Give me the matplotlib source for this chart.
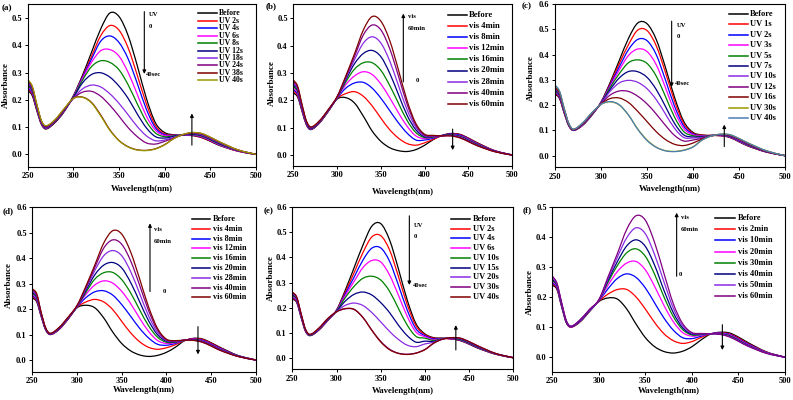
"""
UV-vis switching spectra, six panels (a)-(f).
"""
import matplotlib
matplotlib.use("Agg")
import matplotlib.pyplot as plt
from matplotlib.lines import Line2D
from matplotlib.path import Path
from matplotlib.patches import PathPatch

plt.rcParams['font.family'] = ['Liberation Serif', 'DejaVu Serif']
plt.rcParams['font.weight'] = 'bold'

W, H = 793, 400

# --- Data (absorbance) ---
WL = [250, 255, 260, 265, 270, 280, 290, 300, 310, 320, 330, 340, 350, 360, 370,
      380, 390, 400, 410, 420, 430, 440, 450, 460, 480, 500]

A_LABELS = ['Before', 'UV 2s', 'UV 4s', 'UV 6s', 'UV 8s', 'UV 12s', 'UV 18s',
            'UV 24s', 'UV 38s', 'UV 40s']
A_ROWS = [
    [.235, .215, .160, .110, .093, .117, .157, .215, .290, .375, .460, .518, .505, .435, .325, .205, .115, .080, .072, .070, .069, .062, .048, .033, .012, 0],
    [.240, .220, .163, .112, .095, .119, .159, .213, .285, .360, .435, .472, .455, .390, .290, .185, .105, .075, .071, .070, .070, .063, .049, .034, .012, 0],
    [.245, .224, .166, .114, .096, .120, .160, .212, .282, .350, .415, .434, .410, .350, .260, .165, .097, .072, .070, .070, .071, .065, .051, .035, .013, 0],
    [.250, .228, .169, .116, .097, .121, .161, .211, .278, .338, .380, .384, .360, .300, .220, .140, .088, .069, .069, .070, .072, .066, .052, .036, .013, 0],
    [.254, .232, .172, .118, .098, .122, .162, .210, .272, .322, .343, .337, .310, .255, .185, .120, .078, .065, .068, .071, .073, .068, .054, .038, .014, 0],
    [.258, .236, .175, .119, .099, .123, .163, .208, .262, .293, .299, .283, .250, .205, .148, .097, .065, .060, .066, .071, .075, .070, .056, .040, .015, 0],
    [.262, .240, .177, .120, .100, .124, .164, .206, .240, .254, .247, .222, .187, .145, .102, .068, .050, .053, .063, .072, .077, .072, .058, .042, .015, 0],
    [.266, .243, .179, .121, .101, .125, .165, .205, .228, .231, .213, .180, .140, .098, .065, .042, .038, .048, .060, .072, .078, .074, .060, .044, .016, 0],
    [.272, .248, .182, .123, .104, .127, .167, .205, .210, .190, .144, .090, .051, .028, .017, .015, .021, .036, .058, .073, .080, .077, .063, .046, .017, 0],
    [.275, .250, .184, .124, .105, .128, .168, .205, .209, .188, .141, .088, .050, .027, .016, .014, .020, .035, .058, .073, .080, .077, .063, .046, .017, 0],
]

B_LABELS = ['Before', 'vis 4min', 'vis 8min', 'vis 12min', 'vis 16min', 'vis 20min',
            'vis 28min', 'vis 40min', 'vis 60min']
B_ROWS = [
    [.228, .212, .160, .110, .093, .118, .160, .205, .210, .190, .142, .088, .050, .027, .016, .013, .020, .036, .057, .072, .079, .076, .062, .045, .016, 0],
    [.234, .217, .163, .112, .094, .119, .161, .207, .225, .232, .215, .180, .135, .093, .062, .042, .036, .045, .058, .072, .078, .075, .061, .044, .016, 0],
    [.240, .222, .166, .114, .095, .120, .162, .208, .245, .264, .266, .245, .208, .163, .118, .080, .055, .055, .062, .072, .077, .073, .059, .042, .015, 0],
    [.246, .227, .169, .116, .096, .121, .162, .209, .258, .290, .305, .295, .260, .210, .155, .105, .070, .060, .065, .071, .075, .070, .057, .040, .015, 0],
    [.252, .232, .172, .118, .097, .122, .163, .210, .268, .315, .338, .338, .310, .255, .190, .126, .082, .064, .066, .071, .074, .069, .055, .039, .014, 0],
    [.258, .237, .175, .119, .098, .123, .164, .211, .276, .335, .372, .383, .360, .300, .222, .145, .092, .067, .068, .071, .073, .067, .053, .037, .014, 0],
    [.264, .242, .178, .121, .100, .124, .165, .212, .282, .350, .410, .433, .410, .345, .255, .165, .101, .070, .069, .070, .072, .066, .052, .036, .013, 0],
    [.269, .247, .181, .123, .101, .125, .166, .213, .286, .362, .440, .476, .458, .390, .290, .185, .109, .073, .070, .070, .071, .064, .050, .035, .013, 0],
    [.275, .252, .185, .125, .103, .126, .167, .214, .290, .372, .458, .507, .490, .420, .312, .198, .115, .076, .072, .070, .070, .063, .049, .034, .012, 0],
]

C_LABELS = ['Before', 'UV 1s', 'UV 2s', 'UV 3s', 'UV 5s', 'UV 7s', 'UV 10s',
            'UV 12s', 'UV 16s', 'UV 30s', 'UV 40s']
C_ROWS = [
    [.245, .225, .168, .118, .100, .120, .160, .212, .290, .378, .465, .525, .522, .460, .350, .230, .135, .092, .082, .080, .079, .072, .055, .038, .014, 0],
    [.248, .228, .170, .119, .100, .121, .161, .211, .285, .365, .440, .497, .495, .435, .330, .215, .127, .089, .081, .080, .079, .073, .056, .039, .014, 0],
    [.252, .231, .172, .120, .101, .122, .162, .210, .280, .352, .420, .460, .455, .400, .300, .195, .117, .086, .079, .080, .080, .074, .057, .040, .015, 0],
    [.255, .234, .174, .121, .101, .123, .163, .209, .275, .340, .397, .422, .412, .360, .270, .175, .107, .083, .078, .080, .080, .075, .058, .041, .015, 0],
    [.258, .237, .176, .122, .102, .124, .164, .208, .270, .325, .368, .379, .365, .315, .235, .152, .095, .079, .076, .080, .081, .076, .060, .042, .016, 0],
    [.262, .240, .178, .123, .102, .125, .165, .207, .262, .308, .333, .332, .310, .262, .195, .127, .082, .074, .074, .079, .082, .077, .061, .044, .016, 0],
    [.265, .243, .180, .124, .103, .126, .166, .206, .255, .288, .298, .290, .265, .222, .165, .108, .072, .070, .072, .079, .082, .078, .062, .045, .017, 0],
    [.268, .246, .182, .125, .103, .127, .167, .205, .240, .256, .254, .235, .205, .165, .120, .080, .058, .062, .069, .079, .083, .079, .064, .046, .017, 0],
    [.272, .249, .184, .126, .104, .128, .168, .204, .226, .228, .210, .175, .135, .095, .064, .045, .040, .050, .066, .078, .084, .081, .066, .048, .018, 0],
    [.277, .253, .186, .127, .105, .129, .169, .203, .213, .200, .160, .105, .062, .034, .020, .017, .022, .035, .062, .078, .085, .083, .068, .050, .019, 0],
    [.280, .255, .187, .128, .105, .130, .170, .203, .214, .201, .160, .104, .060, .033, .019, .016, .021, .034, .062, .078, .085, .083, .068, .050, .019, 0],
]

D_LABELS = B_LABELS
D_ROWS = [
    [.245, .228, .170, .118, .100, .120, .160, .205, .215, .205, .165, .110, .065, .036, .020, .014, .018, .030, .050, .075, .085, .083, .068, .050, .018, 0],
    [.250, .232, .172, .119, .100, .121, .161, .207, .228, .238, .228, .198, .152, .107, .072, .050, .042, .048, .060, .076, .084, .081, .066, .048, .017, 0],
    [.254, .236, .174, .120, .101, .122, .162, .208, .245, .268, .272, .255, .218, .172, .125, .087, .062, .058, .065, .077, .082, .078, .063, .046, .017, 0],
    [.258, .240, .176, .121, .101, .123, .163, .209, .258, .295, .311, .302, .270, .222, .165, .113, .077, .065, .068, .077, .081, .076, .061, .044, .016, 0],
    [.262, .244, .178, .122, .102, .124, .164, .210, .266, .318, .343, .344, .316, .264, .198, .135, .090, .070, .070, .077, .080, .074, .059, .042, .016, 0],
    [.266, .248, .180, .123, .102, .125, .165, .211, .273, .335, .373, .383, .362, .305, .230, .155, .100, .074, .072, .078, .079, .073, .058, .041, .015, 0],
    [.270, .252, .182, .124, .103, .126, .166, .212, .280, .352, .410, .430, .410, .348, .262, .174, .109, .077, .073, .078, .078, .072, .057, .040, .015, 0],
    [.275, .256, .184, .125, .104, .127, .167, .213, .285, .364, .440, .472, .455, .390, .295, .195, .118, .080, .075, .078, .078, .071, .056, .039, .014, 0],
    [.280, .260, .186, .126, .105, .128, .168, .214, .290, .374, .460, .508, .495, .425, .320, .210, .125, .082, .076, .078, .077, .070, .055, .038, .014, 0],
]

E_LABELS = ['Before', 'UV 2s', 'UV 4s', 'UV 6s', 'UV 10s', 'UV 15s', 'UV 20s',
            'UV 30s', 'UV 40s']
E_ROWS = [
    [.235, .220, .160, .105, .088, .110, .148, .190, .270, .360, .450, .525, .535, .470, .355, .230, .135, .095, .080, .078, .075, .068, .054, .038, .014, 0],
    [.238, .223, .162, .106, .089, .111, .149, .189, .262, .340, .420, .482, .487, .430, .325, .212, .127, .092, .078, .077, .075, .069, .055, .039, .014, 0],
    [.242, .226, .164, .107, .089, .112, .150, .188, .255, .322, .390, .437, .438, .385, .290, .190, .115, .088, .075, .077, .076, .070, .056, .040, .015, 0],
    [.245, .229, .166, .108, .090, .113, .151, .187, .248, .305, .360, .388, .382, .330, .250, .165, .102, .084, .072, .076, .076, .071, .057, .041, .015, 0],
    [.249, .232, .168, .109, .090, .114, .152, .186, .240, .285, .317, .325, .310, .265, .197, .130, .085, .078, .069, .076, .077, .072, .058, .042, .015, 0],
    [.253, .235, .170, .110, .091, .115, .153, .185, .226, .253, .262, .250, .220, .180, .130, .088, .062, .066, .065, .075, .078, .074, .060, .043, .016, 0],
    [.257, .238, .172, .111, .092, .116, .154, .184, .209, .218, .208, .180, .143, .105, .073, .050, .044, .055, .062, .075, .079, .076, .062, .045, .016, 0],
    [.260, .240, .174, .112, .093, .117, .155, .183, .195, .192, .160, .110, .065, .034, .018, .014, .019, .033, .058, .074, .080, .078, .064, .047, .017, 0],
    [.262, .242, .175, .113, .093, .118, .156, .183, .196, .193, .160, .109, .063, .032, .017, .013, .018, .032, .058, .074, .080, .078, .064, .047, .017, 0],
]

F_LABELS = ['Before', 'vis 2min', 'vis 10min', 'vis 20min', 'vis 30min', 'vis 40min',
            'vis 50min', 'vis 60min']
F_ROWS = [
    [.240, .225, .168, .115, .100, .118, .152, .185, .197, .193, .160, .110, .065, .035, .019, .014, .020, .035, .058, .077, .083, .081, .067, .049, .018, 0],
    [.244, .228, .170, .116, .100, .119, .153, .186, .210, .225, .225, .200, .160, .115, .078, .055, .046, .052, .066, .077, .081, .078, .064, .046, .017, 0],
    [.248, .231, .172, .117, .101, .120, .154, .187, .228, .262, .277, .265, .230, .180, .130, .090, .065, .062, .070, .078, .080, .076, .061, .044, .016, 0],
    [.252, .234, .174, .118, .101, .121, .155, .188, .240, .285, .313, .318, .290, .235, .172, .118, .082, .070, .073, .078, .079, .074, .059, .042, .016, 0],
    [.256, .237, .176, .119, .102, .122, .156, .189, .250, .305, .347, .360, .335, .275, .200, .135, .092, .074, .075, .078, .078, .072, .057, .040, .015, 0],
    [.260, .240, .178, .120, .102, .123, .157, .190, .256, .318, .370, .390, .368, .305, .222, .148, .098, .077, .077, .078, .077, .070, .055, .039, .014, 0],
    [.265, .243, .180, .121, .103, .124, .158, .190, .262, .333, .397, .430, .410, .340, .250, .163, .105, .080, .078, .078, .077, .069, .054, .038, .014, 0],
    [.270, .246, .182, .122, .103, .125, .159, .191, .268, .345, .425, .470, .455, .380, .278, .178, .112, .082, .079, .078, .076, .068, .053, .037, .013, 0],
]

# Origin-style line colours
BLACK, RED, BLUE, MAGENTA = '#000000', '#ff0000', '#0000ff', '#ff00ff'
GREEN, NAVY, VIOLET, PURPLE = '#008000', '#000080', '#8a2be2', '#800080'
WINE, OLIVE, STEEL = '#800000', '#999900', '#4a7fb5'
A_COLORS = [BLACK, RED, BLUE, MAGENTA, GREEN, NAVY, VIOLET, PURPLE, WINE, OLIVE]
B_COLORS = [BLACK, RED, BLUE, MAGENTA, GREEN, NAVY, VIOLET, PURPLE, WINE]
C_COLORS = [BLACK, RED, BLUE, MAGENTA, GREEN, NAVY, VIOLET, PURPLE, WINE, OLIVE, STEEL]
E_COLORS = B_COLORS
F_COLORS = [BLACK, RED, BLUE, MAGENTA, GREEN, NAVY, VIOLET, PURPLE]

fig = plt.figure(figsize=(W / 100, H / 100), dpi=100)


def ftext(x, y, s, **kw):
    # place text using pixel coordinates of the 793x400 canvas
    fig.text(x / W, 1 - y / H, s, **kw)


def smooth_line(ax, xs, ys, color):
    # draw the spectrum as a smooth Bezier path through the read points
    n = len(xs)
    slopes = []
    for i in range(n):
        j0, j1 = max(i - 1, 0), min(i + 1, n - 1)
        slopes.append((ys[j1] - ys[j0]) / (xs[j1] - xs[j0]))
    verts = [(xs[0], ys[0])]
    codes = [Path.MOVETO]
    for i in range(n - 1):
        h = xs[i + 1] - xs[i]
        verts += [(xs[i] + h / 3, ys[i] + slopes[i] * h / 3),
                  (xs[i + 1] - h / 3, ys[i + 1] - slopes[i + 1] * h / 3),
                  (xs[i + 1], ys[i + 1])]
        codes += [Path.CURVE4] * 3
    ax.add_patch(PathPatch(Path(verts, codes), fill=False, edgecolor=color,
                           lw=0.9, joinstyle='round'))


def panel(box, rows, colors, ylim, ymax_tick, letter, letter_xy, ylab_xy, xlab_y,
          leg, arrow_main, arrow_side, arrow_texts):
    l, t, r, b = box
    ax = fig.add_axes([l / W, 1 - b / H, (r - l) / W, (b - t) / H])
    for row, c in zip(rows, colors):
        smooth_line(ax, WL, row, c)
    ax.set_xlim(250, 500)
    ax.set_ylim(*ylim)
    ax.set_xticks([250, 300, 350, 400, 450, 500])
    yt = [i / 10 for i in range(int(round(ymax_tick * 10)) + 1)]
    ax.set_yticks(yt)
    ax.set_yticklabels([f'{v:.1f}' for v in yt])
    ax.tick_params(direction='out', length=2.5, width=0.7, pad=1.5, labelsize=6,
                   top=False, right=False)
    for s in ax.spines.values():
        s.set_linewidth(0.8)

    ftext(*letter_xy, f'({letter})', fontsize=6.5, va='center', ha='left')
    ftext(*ylab_xy, 'Absorbance', fontsize=6.5, rotation=90, va='center', ha='center')
    ftext((l + r) / 2, xlab_y, 'Wavelength(nm)', fontsize=6.3, va='center', ha='center')

    # legend drawn by hand: line x0-x1, text at xt, first row y0, step dy (pixels)
    x0, x1, xt, y0, dy, labels, fs = leg
    for i, (lab, c) in enumerate(zip(labels, colors)):
        y = y0 + i * dy
        fig.add_artist(Line2D([x0 / W, x1 / W], [1 - y / H, 1 - y / H], color=c, lw=1.1))
        ftext(xt, y, lab, fontsize=fs, va='center', ha='left')

    for ax_x, tail, head in (arrow_main, arrow_side):
        ax.annotate('', xy=(ax_x, head), xytext=(ax_x, tail),
                    arrowprops=dict(arrowstyle='-|>', color='black', lw=0.8,
                                    mutation_scale=5, shrinkA=0, shrinkB=0))
    for tx, ty, s in arrow_texts:
        ax.text(tx, ty, s, fontsize=4.8, va='center', ha='left')
    return ax


panel((27.7, 4, 256, 166.7), A_ROWS, A_COLORS, (-0.045, 0.551), 0.5, 'a', (2, 8),
      (6, 85), 189, (198, 217, 219, 13.3, 7.45, A_LABELS, 5.6),
      (377.7, 0.523, 0.295), (429.8, 0.034, 0.15),
      [(383, 0.511, 'UV'), (383, 0.468, '0'), (380, 0.291, '40sec')])

panel((293.3, 4, 512.3, 165.7), B_ROWS, B_COLORS, (-0.039, 0.553), 0.5, 'b', (266, 6),
      (272, 83), 192, (448, 467, 469, 15, 11.1, B_LABELS, 6.2),
      (375.6, 0.268, 0.518), (431.9, 0.095, 0.018),
      [(381, 0.506, 'vis'), (381, 0.463, '60min'), (390, 0.274, '0')])

panel((555, 4, 785, 167.3), C_ROWS, C_COLORS, (-0.046, 0.6), 0.6, 'c', (522, 6),
      (531, 78), 189, (729, 748, 750, 14, 10.4, C_LABELS, 6.0),
      (376.8, 0.532, 0.272), (434, 0.036, 0.123),
      [(382, 0.515, 'UV'), (382, 0.47, '0'), (380, 0.285, '40sec')])

panel((32.3, 207.3, 255.7, 371.7), D_ROWS, B_COLORS, (-0.046, 0.6), 0.6, 'd', (3, 211),
      (9, 285), 390, (191.7, 210, 213, 219, 9.8, D_LABELS, 5.9),
      (381.7, 0.269, 0.537), (435.4, 0.131, 0.022),
      [(386, 0.512, 'vis'), (386, 0.465, '60min'), (396, 0.269, '0')])

panel((292.3, 207.3, 513.3, 369), E_ROWS, E_COLORS, (-0.045, 0.6), 0.6, 'e', (264, 211),
      (271, 278), 391, (450.7, 470, 472.7, 219, 9.7, E_LABELS, 6.0),
      (382.4, 0.566, 0.29), (435, 0.031, 0.13),
      [(387.6, 0.527, 'UV'), (387.6, 0.483, '0'), (386, 0.287, '40sec')])

panel((552.3, 206.7, 785, 371.7), F_ROWS, F_COLORS, (-0.048, 0.5), 0.5, 'f', (523, 210),
      (530, 292), 391, (715, 735, 737.7, 218.3, 11.1, F_LABELS, 6.0),
      (383.6, 0.269, 0.48), (432.7, 0.108, 0.024),
      [(388, 0.463, 'vis'), (388, 0.424, '60min'), (386, 0.274, '0')])

fig.savefig('out.png', dpi=100, facecolor='white')
